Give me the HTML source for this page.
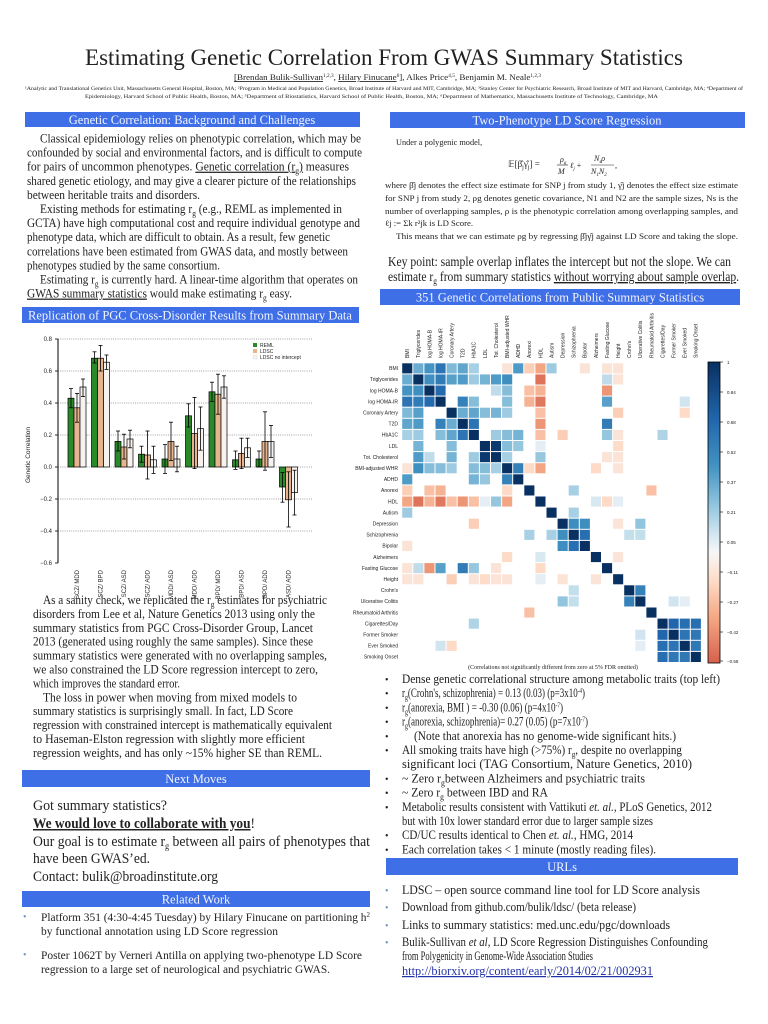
<!DOCTYPE html>
<html><head><meta charset="utf-8">
<style>
html,body{margin:0;padding:0;background:#fff;}
svg{display:block;}
.s{font-family:"Liberation Serif",serif;fill:#222;}
.a{font-family:"Liberation Sans",sans-serif;fill:#222;}
.h{font-family:"Liberation Serif",serif;fill:#f2f4ff;font-size:12.5px;text-anchor:middle;}
</style></head><body>
<svg id="sv" width="768" height="1024" viewBox="0 0 768 1024" xmlns="http://www.w3.org/2000/svg">
<rect width="768" height="1024" fill="#fff"/>
<text class="s" x="384" y="65" font-size="23" text-anchor="middle" fill="#111">Estimating Genetic Correlation From GWAS Summary Statistics</text>
<text class="s" x="234" y="80" font-size="8.5" textLength="307" lengthAdjust="spacingAndGlyphs"><tspan text-decoration="underline">[Brendan Bulik-Sullivan</tspan><tspan font-size="5" dy="-3">1,2,3</tspan><tspan dy="3">, </tspan><tspan text-decoration="underline">Hilary Finucane</tspan><tspan font-size="5" dy="-3">6</tspan><tspan dy="3">],  Alkes Price</tspan><tspan font-size="5" dy="-3">4,5</tspan><tspan dy="3">, Benjamin M. Neale</tspan><tspan font-size="5" dy="-3">1,2,3</tspan></text>
<text class="s" x="25" y="90" font-size="5" textLength="718" lengthAdjust="spacingAndGlyphs">¹Analytic and Translational Genetics Unit, Massachusetts General Hospital, Boston, MA; ²Program in Medical and Population Genetics, Broad Institute of Harvard and MIT, Cambridge, MA; ³Stanley Center for Psychiatric Research, Broad Institute of MIT and Harvard, Cambridge, MA; ⁴Department of</text>
<text class="s" x="85" y="98" font-size="5" textLength="573" lengthAdjust="spacingAndGlyphs">Epidemiology, Harvard School of Public Health, Boston, MA; ⁵Department of Biostatistics, Harvard School of Public Health, Boston, MA; ⁶Department of Mathematics, Massachusetts Institute of Technology, Cambridge, MA</text>

<rect x="25" y="112" width="335" height="15" fill="#3f6fe6"/>
<text class="h" x="192" y="124">Genetic Correlation: Background and Challenges</text>
<rect x="22" y="307" width="337" height="16" fill="#3f6fe6"/>
<text class="h" x="190" y="319.5">Replication of PGC Cross-Disorder Results from Summary Data</text>
<rect x="22" y="770" width="348" height="17" fill="#3f6fe6"/>
<text class="h" x="196" y="783">Next Moves</text>
<rect x="22" y="891" width="348" height="16" fill="#3f6fe6"/>
<text class="h" x="196" y="903.5">Related Work</text>
<rect x="390" y="112" width="355" height="16" fill="#3f6fe6"/>
<text class="h" x="567" y="124.5">Two-Phenotype LD Score Regression</text>
<rect x="380" y="289" width="360" height="16" fill="#3f6fe6"/>
<text class="h" x="560" y="301.5">351 Genetic Correlations from Public Summary Statistics</text>
<rect x="386" y="858" width="352" height="17" fill="#3f6fe6"/>
<text class="h" x="562" y="871">URLs</text>

<g class="s" font-size="12.3" id="lp"></g>
<g class="s" font-size="15" fill="#222">
<text x="33" y="810" textLength="134" lengthAdjust="spacingAndGlyphs">Got summary statistics?</text>
<text x="33" y="828" textLength="222" lengthAdjust="spacingAndGlyphs"><tspan font-weight="bold" text-decoration="underline">We would love to collaborate with you</tspan>!</text>
<text x="33" y="846" textLength="337" lengthAdjust="spacingAndGlyphs">Our goal is to estimate r<tspan font-size="9" dy="3">g</tspan><tspan dy="-3"> between all pairs of phenotypes that</tspan></text>
<text x="33" y="863" textLength="117" lengthAdjust="spacingAndGlyphs">have been GWAS’ed.</text>
<text x="33" y="881" textLength="185" lengthAdjust="spacingAndGlyphs">Contact: bulik@broadinstitute.org</text>
</g>
<g class="s" font-size="11.5">
<text x="23" y="920" fill="#7a93c8" font-size="10">•</text>
<text x="41" y="921" textLength="329" lengthAdjust="spacingAndGlyphs">Platform 351 (4:30-4:45 Tuesday) by Hilary Finucane on partitioning h<tspan font-size="7" dy="-4">2</tspan></text>
<text x="41" y="935" textLength="237" lengthAdjust="spacingAndGlyphs">by functional annotation using LD Score regression</text>
<text x="23" y="958" fill="#7a93c8" font-size="10">•</text>
<text x="41" y="959" textLength="321" lengthAdjust="spacingAndGlyphs">Poster 1062T by Verneri Antilla on applying two-phenotype LD Score</text>
<text x="41" y="973" textLength="289" lengthAdjust="spacingAndGlyphs">regression to a large set of neurological and psychiatric GWAS.</text>
</g>

<g class="s" font-size="8.3">
<text x="396" y="145">Under a polygenic model,</text>
<text x="508" y="167" font-size="9">𝔼[β̂<tspan font-size="6" dy="2">j</tspan><tspan dy="-2">γ̂</tspan><tspan font-size="6" dy="2">j</tspan><tspan dy="-2">] = </tspan></text>
<text x="560" y="162" font-size="8" font-style="italic">ρ<tspan font-size="5" dy="2">g</tspan></text>
<line x1="557" y1="165" x2="568" y2="165" stroke="#222" stroke-width="0.6"/>
<text x="558" y="174" font-size="8" font-style="italic">M</text>
<text x="570" y="168" font-size="8" font-style="italic">ℓ<tspan font-size="5" dy="2">j</tspan><tspan dy="-2" font-style="normal"> + </tspan></text>
<text x="594" y="161" font-size="8" font-style="italic">N<tspan font-size="5" dy="2">s</tspan><tspan dy="-2">ρ</tspan></text>
<line x1="591" y1="165" x2="614" y2="165" stroke="#222" stroke-width="0.6"/>
<text x="591" y="174" font-size="8" font-style="italic">N<tspan font-size="5" dy="2">1</tspan><tspan dy="-2">N</tspan><tspan font-size="5" dy="2">2</tspan></text>
<text x="615" y="168">,</text>
<text x="385" y="188" textLength="353" lengthAdjust="spacingAndGlyphs">where β̂j denotes the effect size estimate for SNP j from study 1, γ̂j denotes the effect size estimate</text>
<text x="385" y="201" textLength="353" lengthAdjust="spacingAndGlyphs">for SNP j from study 2, ρg denotes genetic covariance, N1 and N2 are the sample sizes, Ns is the</text>
<text x="385" y="214" textLength="353" lengthAdjust="spacingAndGlyphs">number of overlapping samples, ρ is the phenotypic correlation among overlapping samples, and</text>
<text x="385" y="226" textLength="88" lengthAdjust="spacingAndGlyphs">ℓj := Σk r²jk is LD Score.</text>
<text x="396" y="239" textLength="342" lengthAdjust="spacingAndGlyphs">This means that we can estimate ρg by regressing β̂jγ̂j against LD Score and taking the slope.</text>
</g>
<g class="s" font-size="14" fill="#111">
<text x="388" y="266" textLength="343" lengthAdjust="spacingAndGlyphs">Key point: sample overlap inflates the intercept but not the slope. We can</text>
<text x="388" y="281" textLength="351" lengthAdjust="spacingAndGlyphs">estimate r<tspan font-size="9" dy="3">g</tspan><tspan dy="-3"> from summary statistics </tspan><tspan text-decoration="underline">without worrying about sample overlap</tspan>.</text>
</g>

<g id="bc"></g>
<g id="hm"></g>
<text class="s" x="553" y="669" font-size="6" text-anchor="middle">(Correlations not significantly different from zero at 5% FDR omitted)</text>

<g class="s" font-size="12.3" id="rb"></g>
</svg>
<script>
var NS="http://www.w3.org/2000/svg";
function el(p,t,a,txt){var e=document.createElementNS(NS,t);for(var k in a)e.setAttribute(k,a[k]);if(txt!=null)e.innerHTML=txt;p.appendChild(e);return e;}
var sub=function(){return 'r<tspan font-size="8" dy="3">g</tspan><tspan dy="-3">';};
var lp=document.getElementById('lp');
var L=[[40,361,"Classical epidemiology relies on phenotypic correlation, which may be"],
[27,362,"confounded by social and environmental factors, and is difficult to compute"],
[27,349,'for pairs of uncommon phenotypes. <tspan text-decoration="underline">Genetic correlation (r</tspan><tspan font-size="8" dy="3" text-decoration="underline">g</tspan><tspan dy="-3" text-decoration="underline">)</tspan> measures'],
[27,356,"shared genetic etiology, and may give a clearer picture of  the relationships"],
[27,200,"between heritable traits and disorders."],
[40,342,'Existing methods for estimating '+sub()+' (e.g., REML as implemented in</tspan>'],
[27,360,"GCTA) have high computational cost and require individual genotype and"],
[27,330,"phenotype data, which are difficult to obtain. As a result, few genetic"],
[27,348,"correlations have been estimated from GWAS data, and mostly between"],
[27,220,"phenotypes studied by the same consortium."],
[40,358,'Estimating '+sub()+' is currently hard. A linear-time algorithm that operates on</tspan>'],
[27,292,'<tspan text-decoration="underline">GWAS summary statistics</tspan> would make estimating  '+sub()+' easy.</tspan>']];
L.forEach(function(l,i){el(lp,'text',{x:l[0],y:142.5+14.1*i,textLength:l[1]-l[0],lengthAdjust:'spacingAndGlyphs'},l[2]);});
var L2=[[43,327,'As a sanity check, we replicated the '+sub()+' estimates for psychiatric</tspan>'],
[33,315,"disorders from Lee et al, Nature Genetics 2013 using only the"],
[33,313,"summary statistics from PGC Cross-Disorder Group, Lancet"],
[33,313,"2013 (generated using roughly the same samples). Since these"],
[33,327,"summary statistics were generated with no overlapping samples,"],
[33,318,"we also constrained the LD Score regression intercept to zero,"],
[33,180,"which improves the standard error."],
[43,297,"The loss in power when moving from mixed models to"],
[33,293,"summary statistics is surprisingly small. In fact, LD Score"],
[33,332,"regression with constrained intercept is mathematically equivalent"],
[33,305,"to Haseman-Elston regression with slightly more efficient"],
[33,322,"regression weights, and has only ~15% higher SE than REML."]];
L2.forEach(function(l,i){el(lp,'text',{x:l[0],y:604+13.9*i,textLength:l[1]-l[0],lengthAdjust:'spacingAndGlyphs'},l[2]);});
var rb=document.getElementById('rb');
var R=[[1,720,"Dense genetic correlational structure among metabolic traits (top left)"],
[1,585,sub()+'(Crohn\'s, schizophrenia) =  0.13 (0.03) (p=3x10<tspan font-size="7" dy="-4">-4</tspan><tspan dy="4">)</tspan></tspan>'],
[1,563,sub()+'(anorexia, BMI ) = -0.30 (0.06) (p=4x10<tspan font-size="7" dy="-4">-7</tspan><tspan dy="4">)</tspan></tspan>'],
[1,588,sub()+'(anorexia, schizophrenia)= 0.27 (0.05) (p=7x10<tspan font-size="7" dy="-4">-7</tspan><tspan dy="4">)</tspan></tspan>'],
[1,676,"(Note that anorexia has no genome-wide significant hits.)",414],
[1,682,'All smoking traits have high (&gt;75%) '+sub()+', despite no overlapping</tspan>'],
[0,692,"significant loci (TAG Consortium, Nature Genetics, 2010)"],
[1,645,'~ Zero '+sub()+'between Alzheimers and psychiatric traits</tspan>'],
[1,548,'~ Zero '+sub()+' between IBD and RA</tspan>'],
[1,712,'Metabolic results consistent with Vattikuti <tspan font-style="italic">et. al.</tspan>, PLoS Genetics, 2012'],
[0,653,"but with 10x lower standard error due to larger sample sizes"],
[1,633,'CD/UC results identical to Chen <tspan font-style="italic">et. al.</tspan>, HMG, 2014'],
[1,656,"Each correlation takes &lt; 1 minute (mostly reading files)."]];
R.forEach(function(l,i){var y=683+14.2*i;var x=l[3]||402;if(l[0])el(rb,'text',{x:385,y:y,'font-size':10},'•');
el(rb,'text',{x:x,y:y,textLength:l[1]-x,lengthAdjust:'spacingAndGlyphs'},l[2]);});
var U=[[1,890,700,"LDSC – open source command line tool for LD Score analysis"],
[1,907,636,"Download from github.com/bulik/ldsc/ (beta release)"],
[1,925,670,"Links to summary statistics: med.unc.edu/pgc/downloads"],
[1,942,708,'Bulik-Sullivan <tspan font-style="italic">et al</tspan>, LD Score Regression Distinguishes Confounding'],
[0,956,593,"from Polygenicity in Genome-Wide Association Studies"],
[0,971,653,'<tspan text-decoration="underline" fill="#2233aa">http://biorxiv.org/content/early/2014/02/21/002931</tspan>']];
U.forEach(function(l){var y=l[1]+4;if(l[0])el(rb,'text',{x:385,y:y,'font-size':10,fill:'#7a93c8'},'•');
el(rb,'text',{x:402,y:y,textLength:l[2]-402,lengthAdjust:'spacingAndGlyphs'},l[3]);});

var bc=document.getElementById('bc');
function Y(v){return 467-160*v;}
el(bc,'line',{x1:58,y1:339,x2:58,y2:563,stroke:'#000','stroke-width':1});
[[0.8,"0.8"],[0.6,"0.6"],[0.4,"0.4"],[0.2,"0.2"],[0,"0.0"],[-0.2,"\u22120.2"],[-0.4,"\u22120.4"],[-0.6,"\u22120.6"]].forEach(function(p){var v=p[0],y=Y(v);
el(bc,'line',{x1:55,y1:y,x2:58,y2:y,stroke:'#000','stroke-width':0.8});
if(v>-0.6)el(bc,'line',{x1:58,y1:y,x2:313,y2:y,stroke:'#444','stroke-width':0.6,'stroke-dasharray':'1,1.2'});
el(bc,'text',{x:52,y:y+2,'font-size':6,'text-anchor':'end','class':'a'},p[1]);});
el(bc,'text',{x:30,y:455,'font-size':6.5,'text-anchor':'middle','class':'a',transform:'rotate(-90 30 455)'},'Genetic Correlation');
var D=[["SCZ/ MDD",[.43,.37,.49],[.37,.28,.46],[.50,.44,.55]],
["SCZ/ BPD",[.68,.65,.72],[.68,.60,.76],[.655,.61,.70]],
["SCZ/ ASD",[.16,.10,.225],[.125,.05,.205],[.175,.12,.23]],
["SCZ/ ADD",[.08,.03,.13],[.075,-.075,.225],[.045,-.04,.13]],
["MDD/ ASD",[.05,-.04,.14],[.16,.04,.28],[.05,-.03,.13]],
["MDD/ ADD",[.32,.25,.395],[.21,-.01,.435],[.24,.105,.375]],
["BPD/ MDD",[.47,.41,.53],[.455,.33,.58],[.50,.43,.57]],
["BPD/ ASD",[.045,-.015,.10],[.085,-.01,.18],[.12,.06,.18]],
["BPD/ ADD",[.05,0,.10],[.16,-.02,.345],[.16,.06,.26]],
["ASD/ ADD",[-.125,-.22,-.035],[-.205,-.375,-.03],[-.16,-.30,-.02]]];
var C=['#2a8a2a','#e6b48e','#f6f2f0'];
D.forEach(function(g,i){var c=77+23.5*i;
for(var k=0;k<3;k++){var b=g[k+1],x=c-9+6*k,y0=Y(Math.max(b[0],0)),y1=Y(Math.min(b[0],0));
el(bc,'rect',{x:x,y:y0,width:6,height:y1-y0,fill:C[k],stroke:'#000','stroke-width':0.7});
var xm=x+3;el(bc,'line',{x1:xm,y1:Y(b[1]),x2:xm,y2:Y(b[2]),stroke:'#000','stroke-width':0.8});
el(bc,'line',{x1:xm-2,y1:Y(b[1]),x2:xm+2,y2:Y(b[1]),stroke:'#000','stroke-width':0.8});
el(bc,'line',{x1:xm-2,y1:Y(b[2]),x2:xm+2,y2:Y(b[2]),stroke:'#000','stroke-width':0.8});}
el(bc,'text',{x:c+2,y:570,'font-size':6,'text-anchor':'end','class':'a',transform:'rotate(-90 '+(c+2)+' 570)'},g[0]);});
[['REML',C[0]],['LDSC',C[1]],['LDSC no intercept',C[2]]].forEach(function(l,i){var y=343+6*i;
el(bc,'rect',{x:253,y:y,width:4,height:4,fill:l[1],stroke:i==2?'#ccc':'none','stroke-width':0.3});
el(bc,'text',{x:260,y:y+4,'font-size':5,'class':'a'},l[0]);});

var hm=document.getElementById('hm');
var N=["BMI","Triglycerides","log HOMA-B","log HOMA-IR","Coronary Artery","T2D","HbA1C","LDL","Tot. Cholesterol","BMI-adjusted WHR","ADHD","Anorexi","HDL","Autism","Depression","Schizophrenia","Bipolar","Alzheimers","Fasting Glucose","Height","Crohn's","Ulcerative Colitis","Rheumatoid Arthritis","Cigarettes/Day","Former Smoker","Ever Smoked","Smoking Onset"];
var n=N.length,M=[];for(var i=0;i<n;i++){M.push([]);for(var j=0;j<n;j++)M[i].push(i==j?1:0);}
function s(a,b,v){var i=N.indexOf(a),j=N.indexOf(b);M[i][j]=v;M[j][i]=v;}
function row(a,o){for(var k in o)s(a,k,o[k]);}
row("BMI",{"Triglycerides":.35,"log HOMA-B":.45,"log HOMA-IR":.62,"Coronary Artery":.3,"T2D":.38,"HbA1C":.2,"BMI-adjusted WHR":-.1,"ADHD":.42,"Anorexi":-.2,"HDL":-.35,"Autism":.22,"Bipolar":-.1,"Fasting Glucose":-.1,"Height":-.1});
row("Triglycerides",{"log HOMA-B":.48,"log HOMA-IR":.58,"Coronary Artery":.4,"T2D":.42,"HbA1C":.22,"LDL":.32,"Tot. Cholesterol":.42,"BMI-adjusted WHR":.48,"HDL":-.52,"Fasting Glucose":.14,"Height":-.1});
row("log HOMA-B",{"log HOMA-IR":.68,"Tot. Cholesterol":.14,"BMI-adjusted WHR":.28,"Anorexi":-.25,"HDL":-.3,"Fasting Glucose":-.4});
row("log HOMA-IR",{"T2D":.55,"HbA1C":.28,"BMI-adjusted WHR":.28,"Anorexi":-.3,"HDL":-.5,"Fasting Glucose":.4,"Ever Smoked":.1});
row("Coronary Artery",{"T2D":.35,"HbA1C":.38,"LDL":.28,"Tot. Cholesterol":.32,"BMI-adjusted WHR":.22,"HDL":-.25,"Height":-.2,"Ever Smoked":-.15});
row("T2D",{"HbA1C":.62,"HDL":-.4,"Fasting Glucose":.58});
row("HbA1C",{"Tot. Cholesterol":.22,"BMI-adjusted WHR":.28,"ADHD":.32,"HDL":-.25,"Depression":-.2,"Fasting Glucose":.24,"Height":-.1,"Cigarettes/Day":.18});
row("LDL",{"Tot. Cholesterol":.95,"BMI-adjusted WHR":.28,"ADHD":.24,"HDL":.05,"Height":-.14});
row("Tot. Cholesterol",{"BMI-adjusted WHR":.2,"HDL":.24,"Fasting Glucose":-.1,"Height":-.1});
row("BMI-adjusted WHR",{"ADHD":.55,"Anorexi":-.15,"HDL":-.35,"Alzheimers":-.15,"Height":-.1});
row("Anorexi",{"Schizophrenia":.2,"Rheumatoid Arthritis":-.25});
row("HDL",{"Alzheimers":.08,"Fasting Glucose":-.15,"Height":.05});
row("Autism",{"Schizophrenia":.2});
row("Depression",{"Schizophrenia":.48,"Bipolar":.48,"Height":-.1,"Ulcerative Colitis":.25});
row("Schizophrenia",{"Bipolar":.65,"Crohn's":.13,"Ulcerative Colitis":.13});
row("Alzheimers",{"Height":-.1});
row("Crohn's",{"Ulcerative Colitis":.55});
row("Ulcerative Colitis",{"Former Smoker":.1,"Ever Smoked":.05});
row("Cigarettes/Day",{"Former Smoker":.7,"Ever Smoked":.65,"Smoking Onset":.65});
row("Former Smoker",{"Ever Smoked":.62,"Smoking Onset":.6});
row("Ever Smoked",{"Smoking Onset":.6});
var stops=[[-0.58,[214,96,77]],[-0.35,[244,165,130]],[-0.15,[253,219,199]],[0,[247,247,247]],[0.1,[209,229,240]],[0.25,[146,197,222]],[0.45,[67,147,195]],[0.7,[33,102,172]],[1,[8,48,97]]];
function col(v){for(var k=1;k<stops.length;k++){if(v<=stops[k][0]){var a=stops[k-1],b=stops[k],t=(v-a[0])/(b[0]-a[0]);
return 'rgb('+[0,1,2].map(function(q){return Math.round(a[1][q]+t*(b[1][q]-a[1][q]));}).join(',')+')';}}return 'rgb(8,48,97)';}
var ox=401.7,oy=362.8,cs=11.1;
for(var i=0;i<n;i++){
el(hm,'text',{x:398,y:oy+cs*i+7.3,'font-size':5,'text-anchor':'end','class':'a'},N[i].replace("'","&#39;"));
var cx=ox+cs*i+cs/2+1.8;el(hm,'text',{x:cx,y:358,'font-size':5,'class':'a',transform:'rotate(-90 '+cx+' 358)'},N[i].replace("'","&#39;"));
for(var j=0;j<n;j++){var v=M[i][j];if(v!=0)el(hm,'rect',{x:ox+cs*j+0.5,y:oy+cs*i+0.5,width:cs-1,height:cs-1,fill:col(v)});}}
var defs=el(hm,'defs',{});var lg=el(defs,'linearGradient',{id:'cb',x1:0,y1:1,x2:0,y2:0});
stops.forEach(function(s){el(lg,'stop',{offset:((s[0]+0.58)/1.58).toFixed(3),'stop-color':col(s[0])});});
el(hm,'rect',{x:708,y:362,width:12,height:301,fill:'url(#cb)',stroke:'#000','stroke-width':0.8});
["1","0.84","0.68","0.52","0.37","0.21","0.05","\u22120.11","\u22120.27","\u22120.42","\u22120.58"].forEach(function(t,i){var y=362+30*i+(i==10?-1:0);
el(hm,'line',{x1:720,y1:y,x2:723,y2:y,stroke:'#000','stroke-width':0.6});
el(hm,'text',{x:727,y:y+2,'font-size':4.5,'class':'a'},t);});
</script>
</body></html>
